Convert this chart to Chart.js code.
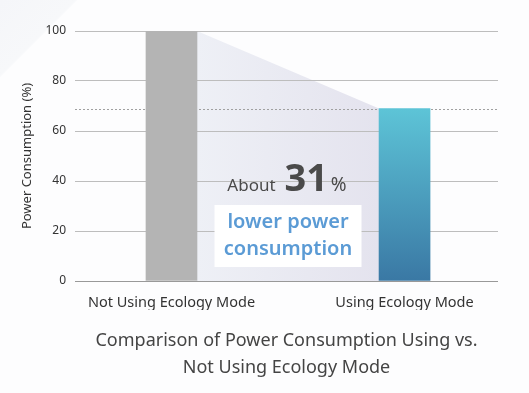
<!DOCTYPE html>
<html>
<head>
<meta charset="utf-8">
<script src="https://cdn.jsdelivr.net/npm/chart.js@4"></script>
<style>
  html, body { margin: 0; padding: 0; background: #fff; }
  #wrap { width: 529px; height: 393px; }
</style>
</head>
<body>
<div id="wrap"><canvas id="chart"></canvas></div>
<script>
const categories = ['Not Using Ecology Mode', 'Using Ecology Mode'];
const consumption = [100, 69];
const yTicks = [0, 20, 40, 60, 80, 100];
const titleLines = ['Comparison of Power Consumption Using vs.', 'Not Using Ecology Mode'];

const FONT = '"Noto Sans", "Open Sans", sans-serif';

// background, shaded drop area, dashed reference line, callout box
const decor = {
    id: 'decor',
    beforeDraw(chart) {
        const { ctx, width, height } = chart;
        const y = chart.scales.y;
        ctx.save();
        const bg = ctx.createLinearGradient(0, 0, 39, 39);
        bg.addColorStop(0, '#f5f6f9');
        bg.addColorStop(0.97, '#f7f8fa');
        bg.addColorStop(1, '#fdfdfe');
        ctx.fillStyle = bg;
        ctx.fillRect(0, 0, width, height);

        const bars = chart.getDatasetMeta(0).data;
        const x0 = bars[0].x + bars[0].width / 2;
        const x1 = bars[1].x - bars[1].width / 2;
        const base = y.getPixelForValue(0);
        const grad = ctx.createLinearGradient(x0, 0, x1, 0);
        grad.addColorStop(0, '#eef0f6');
        grad.addColorStop(1, '#e4e3ee');
        ctx.fillStyle = grad;
        ctx.beginPath();
        ctx.moveTo(x0, bars[0].y);
        ctx.lineTo(x1, bars[1].y);
        ctx.lineTo(x1, base);
        ctx.lineTo(x0, base);
        ctx.closePath();
        ctx.fill();
        ctx.restore();
    },
    beforeDatasetsDraw(chart) {
        const { ctx, chartArea } = chart;
        const py = Math.round(chart.scales.y.getPixelForValue(consumption[1])) + 0.5;
        ctx.save();
        ctx.strokeStyle = '#a0a0a0';
        ctx.lineWidth = 1;
        ctx.setLineDash([2, 2]);
        ctx.beginPath();
        ctx.moveTo(chartArea.left, py);
        ctx.lineTo(chartArea.right, py);
        ctx.stroke();
        ctx.restore();
    },
    afterDraw(chart) {
        const { ctx } = chart;
        const y = chart.scales.y;
        const bars = chart.getDatasetMeta(0).data;
        const cx = (bars[0].x + bars[1].x) / 2;
        const saving = consumption[0] - consumption[1];
        ctx.save();
        // "About 31 %"
        const baseY = y.getPixelForValue(36);
        ctx.textBaseline = 'alphabetic';
        ctx.fillStyle = '#4a4a4a';
        const p1 = 'About  ', p2 = String(saving), p3 = ' %';
        ctx.font = '17px ' + FONT;
        const w1 = ctx.measureText(p1).width;
        ctx.font = '19px ' + FONT;
        const w3 = ctx.measureText(p3).width;
        ctx.font = 'bold 38px ' + FONT;
        const w2 = ctx.measureText(p2).width;
        const sx = cx - (w1 + w2 + w3) / 2;
        ctx.font = '17px ' + FONT;
        ctx.fillText(p1, sx, baseY);
        ctx.font = 'bold 38px ' + FONT;
        ctx.fillText(p2, sx + w1, baseY);
        ctx.font = '19px ' + FONT;
        ctx.fillText(p3, sx + w1 + w2 - 2, baseY);

        // white box
        const top = y.getPixelForValue(30.4);
        const bottom = y.getPixelForValue(5.6);
        const bw = 147;
        ctx.fillStyle = '#ffffff';
        ctx.fillRect(cx - bw / 2, top, bw, bottom - top);
        ctx.fillStyle = '#5b9bd5';
        ctx.font = '600 20px ' + FONT;
        ctx.textAlign = 'center';
        ctx.textBaseline = 'middle';
        const mid = (top + bottom) / 2;
        ctx.fillText('lower power', cx, mid - 14);
        ctx.fillText('consumption', cx, mid + 13);
        ctx.restore();
    }
};

document.addEventListener('DOMContentLoaded', () => {
    const ctx = document.getElementById('chart').getContext('2d');

    new Chart(ctx, {
        type: 'bar',
        data: {
            datasets: [{
                data: consumption.map((v, i) => ({ x: i, y: v })),
                barThickness: 51,
                borderWidth: 0,
                backgroundColor: (c) => {
                    if (c.dataIndex === 0) return '#b4b4b4';
                    const area = c.chart.chartArea;
                    if (!area) return '#4fa8c6';
                    const g = c.chart.ctx.createLinearGradient(0, c.chart.scales.y.getPixelForValue(consumption[1]), 0, area.bottom);
                    g.addColorStop(0, '#5dc4d7');
                    g.addColorStop(1, '#3a78a4');
                    return g;
                }
            }]
        },
        options: {
            responsive: true,
            maintainAspectRatio: false,
            animation: false,
            layout: { padding: { top: 31, right: 31, left: 0, bottom: 12 } },
            plugins: {
                legend: { display: false },
                tooltip: { enabled: false },
                title: {
                    display: true,
                    position: 'bottom',
                    fullSize: false,
                    text: titleLines,
                    color: '#444',
                    font: { family: FONT, size: 18, weight: 'normal', lineHeight: 1.5 },
                    padding: { top: 17, bottom: 0 }
                }
            },
            scales: {
                x: {
                    type: 'linear',
                    offset: false,
                    min: -0.414,
                    max: 1.401,
                    grid: { display: false, drawTicks: false },
                    border: { display: false },
                    afterBuildTicks: (scale) => {
                        scale.ticks = categories.map((c, i) => ({ value: i }));
                    },
                    afterFit: (scale) => { scale.height = 29; },
                    ticks: {
                        autoSkip: false,
                        maxRotation: 0,
                        padding: 13,
                        color: '#333',
                        font: { family: FONT, size: 14.5 },
                        callback: (v) => categories[v]
                    }
                },
                y: {
                    min: 0,
                    max: 100,
                    afterBuildTicks: (scale) => {
                        scale.ticks = yTicks.map(v => ({ value: v }));
                    },
                    afterFit: (scale) => { scale.width = 75; },
                    grid: {
                        drawTicks: false,
                        color: (c) => c.tick.value === 0 ? '#999' : '#bdbdbd'
                    },
                    border: { display: false },
                    ticks: {
                        padding: 9,
                        color: '#333',
                        font: { family: FONT, size: 12 }
                    },
                    title: {
                        display: true,
                        text: 'Power Consumption (%)',
                        color: '#333',
                        font: { family: FONT, size: 13 },
                        padding: { top: 19, bottom: 0 }
                    }
                }
            }
        },
        plugins: [decor]
    });
});
</script>
</body>
</html>
